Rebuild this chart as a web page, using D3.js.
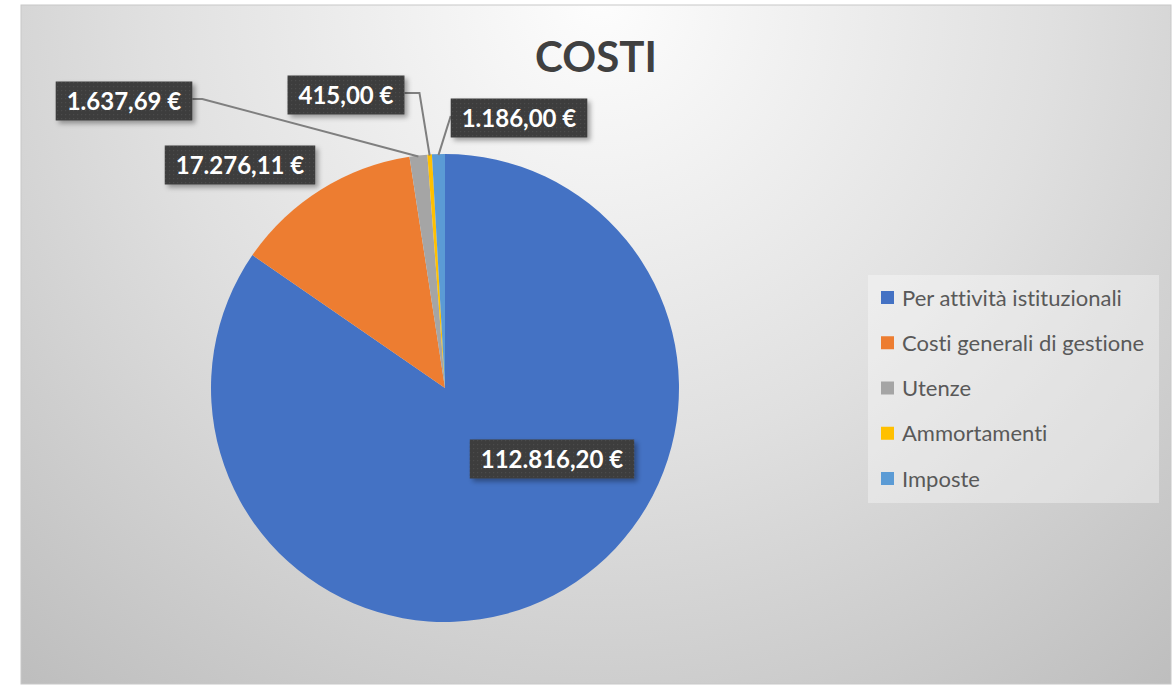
<!DOCTYPE html>
<html>
<head>
<meta charset="utf-8">
<script src="https://cdn.jsdelivr.net/npm/d3@7"></script>
<style>
  body { margin: 0; background: #fff; }
  svg { display: block; }
  text { font-variant-ligatures: none; }
  .title { font-family: Lato, "Open Sans", sans-serif; font-weight: 700; fill: #404040; }
  .lbl { font-family: Lato, "Open Sans", sans-serif; font-weight: 700; fill: #fff; }
  .leg { font-family: Lato, "Open Sans", sans-serif; fill: #595959; }
</style>
</head>
<body>
<svg id="chart" width="1176" height="685"></svg>
<script>
// data
const categories = ["Per attività istituzionali", "Costi generali di gestione", "Utenze", "Ammortamenti", "Imposte"]
const values = [112816.20, 17276.11, 1637.69, 415.00, 1186.00]
const colors = ["#4472C4", "#ED7D31", "#A5A5A5", "#FFC000", "#5B9BD5"]
const title = "COSTI"

// layout of the data labels (box centre) and their leader lines
const labelCenters = [[552, 459], [240, 165], [124, 101], [346, 95], [519, 118]]
const leaderSide = [null, null, "right", "right", "left"]
const leaderElbow = [0, 0, 10, 15, 0]

const W = 1176, H = 685
const cx = 445, cy = 388, R = 234

const itFormat = d3.formatLocale({decimal: ",", thousands: ".", grouping: [3], currency: ["", " €"]})
const fmt = itFormat.format("$,.2f")

let svg = d3.select("#chart")
let defs = svg.append("defs")

let grad = defs.append("radialGradient").attr("id", "bg")
    .attr("gradientUnits", "userSpaceOnUse")
    .attr("cx", 600).attr("cy", 0).attr("r", 900)
grad.append("stop").attr("offset", 0).attr("stop-color", "#fdfdfd")
grad.append("stop").attr("offset", 0.5).attr("stop-color", "#e0e0e0")
grad.append("stop").attr("offset", 1).attr("stop-color", "#bdbdbd")

let pat = defs.append("pattern").attr("id", "dots")
    .attr("patternUnits", "userSpaceOnUse").attr("width", 4).attr("height", 4)
pat.append("rect").attr("width", 4).attr("height", 4).attr("fill", "#3d3d3d")
pat.append("rect").attr("x", 1).attr("y", 1).attr("width", 1.2).attr("height", 1.2).attr("fill", "#4c4c4c")

let shadow = defs.append("filter").attr("id", "shadow")
    .attr("x", "-20%").attr("y", "-30%").attr("width", "140%").attr("height", "170%")
shadow.append("feDropShadow").attr("dx", 3).attr("dy", 3).attr("stdDeviation", 2.5)
    .attr("flood-color", "#000").attr("flood-opacity", 0.35)

// background
svg.append("rect")
    .attr("x", 21).attr("y", 5).attr("width", 1150).attr("height", 679)
    .attr("fill", "url(#bg)")
    .attr("stroke", "#c8c8c8").attr("stroke-width", 1)

// title
svg.append("text").attr("class", "title")
    .attr("x", 596).attr("y", 72)
    .attr("text-anchor", "middle")
    .style("font-size", "42px")
    .text(title)

// pie
let pie = d3.pie().sort(null).value(d => d)
let arcs = pie(values)
let arc = d3.arc().innerRadius(0).outerRadius(R)

let g = svg.append("g").attr("transform", `translate(${cx},${cy})`)
g.selectAll(".slice")
    .data(arcs)
    .enter()
    .append("path")
    .attr("class", "slice")
    .attr("d", arc)
    .attr("fill", (d, i) => colors[i])

// leader lines
let outer = d3.arc().innerRadius(R).outerRadius(R)
arcs.forEach(function (d, i) {
    if (!leaderSide[i]) return
    let p = outer.centroid(d)
    let px = cx + p[0], py = cy + p[1] + 1
    let box = labelCenters[i]
    let half = boxWidth(i) / 2
    let ax = leaderSide[i] == "right" ? box[0] + half : box[0] - half
    let ay = box[1] - 2
    let ex = leaderSide[i] == "right" ? ax + leaderElbow[i] : ax - leaderElbow[i]
    svg.append("path")
        .attr("d", d3.line()([[ax, ay], [ex, ay], [px, py]]))
        .attr("fill", "none")
        .attr("stroke", "#7f7f7f")
        .attr("stroke-width", 2)
})

// data labels
function boxWidth(i) {
    return textWidth(fmt(values[i])) + 22
}
function textWidth(s) {
    let t = svg.append("text").attr("class", "lbl").style("font-size", "24px").text(s)
    let w = t.node().getComputedTextLength()
    t.remove()
    return w
}

let labels = svg.selectAll(".dl")
    .data(values)
    .enter()
    .append("g")
    .attr("class", "dl")
    .attr("transform", (d, i) => `translate(${labelCenters[i][0]},${labelCenters[i][1]})`)
labels.append("rect")
    .attr("x", (d, i) => -boxWidth(i) / 2)
    .attr("y", -19.5)
    .attr("width", (d, i) => boxWidth(i))
    .attr("height", 39)
    .attr("fill", "url(#dots)")
    .attr("filter", "url(#shadow)")
labels.append("text")
    .attr("class", "lbl")
    .attr("text-anchor", "middle")
    .attr("y", 8.5)
    .style("font-size", "24px")
    .text(d => fmt(d))

// legend
svg.append("rect")
    .attr("x", 868).attr("y", 275).attr("width", 291).attr("height", 228)
    .attr("fill", "#ffffff").attr("fill-opacity", 0.35)

let legendY = d3.scalePoint().domain(categories).range([298, 479])
let legend = svg.selectAll(".legend")
    .data(categories)
    .enter()
    .append("g")
    .attr("class", "legend")
    .attr("transform", d => `translate(881,${legendY(d)})`)
legend.append("rect")
    .attr("x", 0).attr("y", -7).attr("width", 13).attr("height", 13)
    .attr("fill", (d, i) => colors[i])
legend.append("text")
    .attr("class", "leg")
    .attr("x", 21).attr("y", 7.5)
    .style("font-size", "22px")
    .text(d => d)
</script>
</body>
</html>
